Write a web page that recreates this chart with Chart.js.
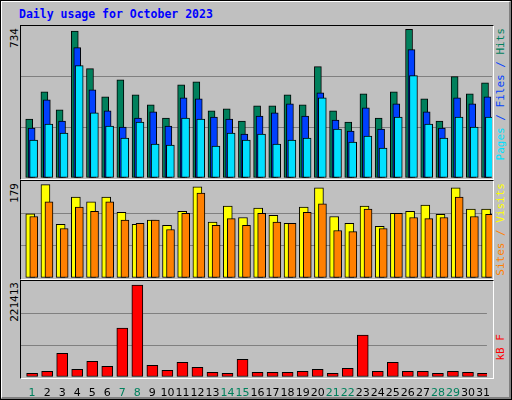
<!DOCTYPE html>
<html><head><meta charset="utf-8">
<script src="https://cdn.jsdelivr.net/npm/chart.js@4"></script>
<style>
body{margin:0;background:#fff}
#wrap{position:relative;width:512px;height:400px;box-sizing:border-box;border:1px solid #000;background:#c0c0c0;overflow:hidden}
#inner{position:absolute;left:0;top:0;width:510px;height:398px;box-sizing:border-box;border-top:1px solid #fff;border-left:1px solid #fff;border-right:2px solid #808080;border-bottom:2px solid #808080}
.frame{position:absolute;box-sizing:border-box;border-top:1px solid #000;border-left:1px solid #000;border-right:1px solid #fff;border-bottom:1px solid #fff}
canvas{position:absolute}
.t{position:absolute;font-family:"DejaVu Sans Mono",monospace;font-size:11px;white-space:nowrap}
.v{position:absolute;writing-mode:vertical-rl;transform:rotate(180deg);font-family:"DejaVu Sans Mono",monospace;font-size:11px;white-space:nowrap;line-height:12px}
</style></head><body>
<div id="wrap"><div id="inner"></div>
<div class="t" style="left:18px;top:6px;color:#0000ff;font-weight:bold;font-size:11.5px">Daily usage for October 2023</div>
<div class="frame" style="left:19px;top:24px;width:474px;height:155px"></div>
<div class="frame" style="left:19px;top:179px;width:474px;height:100px"></div>
<div class="frame" style="left:19px;top:279px;width:474px;height:99px"></div>
<canvas id="c1" width="471" height="152" style="left:20px;top:25px"></canvas>
<canvas id="c2" width="471" height="97" style="left:20px;top:180px"></canvas>
<canvas id="c3" width="471" height="120" style="left:20px;top:280px"></canvas>
<div class="v" style="left:8px;top:27px">734</div>
<div class="v" style="left:8px;top:182px">179</div>
<div class="v" style="left:8px;top:281px">221413</div>
<div class="v" style="left:494px;top:27px"><span style="color:#00e0ff">Pages</span><span style="color:#0040ff"> / Files / </span><span style="color:#00805c">Hits</span></div>
<div class="v" style="left:494px;top:182px"><span style="color:#ff8000">Sites / </span><span style="color:#ffff00">Visits</span></div>
<div class="v" style="left:494px;top:333px;color:#ff0000">kB F</div>
</div>
<script>
const days=[1,2,3,4,5,6,7,8,9,10,11,12,13,14,15,16,17,18,19,20,21,22,23,24,25,26,27,28,29,30,31];
const weekend=[1,7,8,14,15,21,22,28,29];
const hits=[295,431,341,734,547,406,491,416,366,300,466,481,336,346,285,361,361,416,366,557,336,280,421,300,431,743,396,285,507,421,476];
const files=[250,391,285,652,441,336,255,300,331,260,401,396,305,295,220,310,326,371,310,426,290,235,351,245,371,642,331,250,401,371,406];
const pages=[190,270,225,562,326,260,200,280,170,165,300,295,160,225,190,220,170,190,200,401,245,180,210,150,305,512,270,200,305,255,305];
const visits=[123,179,103,155,146,155,126,103,111,101,128,175,107,138,116,134,120,105,136,173,118,105,138,99,124,128,140,122,173,132,132];
const sites=[118,146,95,136,128,146,111,105,111,93,124,163,101,114,101,124,107,105,126,142,91,89,132,95,124,116,114,116,155,118,122];
const kbytes=[8900,13800,57200,18600,37900,25800,117600,221413,28200,16200,35500,23400,11300,8900,42700,11300,11300,11300,13800,18600,8900,21000,100700,13800,35500,13800,13800,8900,13800,11300,8900];
const xs={type:'linear',min:0.26,max:31.26,offset:false,display:false};
function pts(arr,off){return arr.map((v,i)=>({x:days[i]+off,y:v}));}
function ds(arr,off,color,w,order){return {data:pts(arr,off),backgroundColor:color,borderColor:'#000',borderWidth:1,borderSkipped:false,barThickness:w,grouped:false,order:order};}
function ys(max,step){return {min:0,max:max,display:true,border:{display:false},ticks:{display:false,stepSize:step},
  grid:{drawTicks:false,color:c=>(c.tick.value>0&&c.tick.value<max-1)?'#808080':'rgba(0,0,0,0)',lineWidth:1}};}
const base={responsive:false,animation:false,devicePixelRatio:1,plugins:{legend:{display:false},tooltip:{enabled:false}},layout:{padding:0}};
new Chart(document.getElementById('c1'),{type:'bar',data:{datasets:[
  ds(hits,-0.2,'#00805c',7,3),ds(files,-0.04,'#0040ff',7,2),ds(pages,0.09,'#00e0ff',8,1)]},
  options:{...base,scales:{x:xs,y:{...ys(760,253),afterFit:s=>{s.width=0;}}}}});
new Chart(document.getElementById('c2'),{type:'bar',data:{datasets:[
  ds(visits,-0.13,'#ffff00',9,2),ds(sites,0.1,'#ff8000',8,1)]},
  options:{...base,scales:{x:xs,y:{...ys(186,62),afterFit:s=>{s.width=0;}}}}});
new Chart(document.getElementById('c3'),{type:'bar',data:{datasets:[ds(kbytes,0,'#ff0000',11,1)]},
  options:{...base,scales:{
    x:{type:'linear',min:0.26,max:31.26,offset:false,border:{display:false},grid:{display:false},
      afterBuildTicks:s=>{s.ticks=days.map(v=>({value:v}));},
      afterFit:s=>{s.height=24;},
      ticks:{autoSkip:false,maxRotation:0,padding:2,font:{family:'DejaVu Sans',size:11},
        color:c=>weekend.includes(c.tick.value)?'#00805c':'#000',callback:v=>String(v)}},
    y:{...ys(231000,77000),afterFit:s=>{s.width=0;}}}}});
</script></body></html>
